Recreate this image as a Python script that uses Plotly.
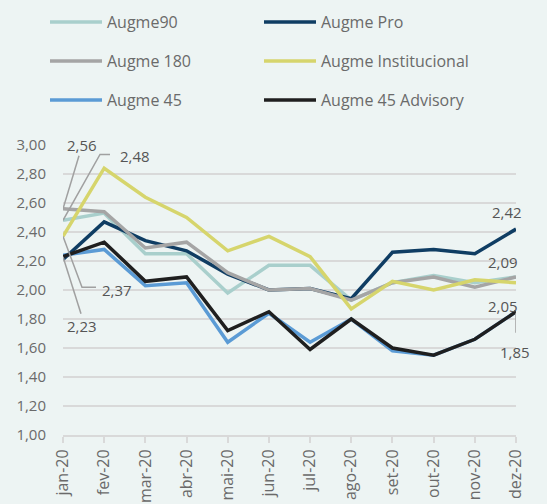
import plotly.graph_objects as go

months = ["jan-20", "fev-20", "mar-20", "abr-20", "mai-20", "jun-20",
          "jul-20", "ago-20", "set-20", "out-20", "nov-20", "dez-20"]

augme90 = [2.48, 2.53, 2.25, 2.25, 1.98, 2.17, 2.17, 1.93, 2.05, 2.10, 2.05, 2.09]
augme_pro = [2.21, 2.47, 2.34, 2.27, 2.11, 2.00, 2.01, 1.94, 2.26, 2.28, 2.25, 2.42]
augme180 = [2.56, 2.54, 2.29, 2.33, 2.12, 2.00, 2.01, 1.93, 2.05, 2.09, 2.02, 2.09]
augme_inst = [2.37, 2.84, 2.64, 2.50, 2.27, 2.37, 2.23, 1.87, 2.06, 2.00, 2.07, 2.05]
augme45 = [2.24, 2.28, 2.03, 2.05, 1.64, 1.84, 1.64, 1.80, 1.58, 1.55, 1.66, 1.85]
augme45_adv = [2.23, 2.33, 2.06, 2.09, 1.72, 1.85, 1.59, 1.80, 1.60, 1.55, 1.66, 1.85]

yticks = [1.0, 1.2, 1.4, 1.6, 1.8, 2.0, 2.2, 2.4, 2.6, 2.8, 3.0]

series = [
    ("Augme90", augme90, "#A9CFCC", "legend"),
    ("Augme Pro", augme_pro, "#0F3D63", "legend"),
    ("Augme 180", augme180, "#A5A5A5", "legend2"),
    ("Augme Institucional", augme_inst, "#D6D56C", "legend2"),
    ("Augme 45", augme45, "#5B9BD5", "legend3"),
    ("Augme 45 Advisory", augme45_adv, "#1F1F1F", "legend3"),
]

x_idx = list(range(len(months)))
BG = "#EDF4F3"
FONT = "Open Sans"
TXT = "#6A6A6A"

fig = go.Figure()
for name, vals, color, lg in series:
    fig.add_trace(go.Scatter(x=x_idx, y=vals, name=name, mode="lines",
                             line=dict(color=color, width=3.5), legend=lg))

# value labels (text positioned relative to data points with pixel shifts)
labels = [
    (0, augme180[0], 19, 64),
    (0, augme90[0], 72, 64),
    (0, augme_inst[0], 54, -54),
    (0, augme45_adv[0], 19, -69),
    (11, augme_pro[11], -9, 17),
    (11, augme180[11], -13, 15),
    (11, augme_inst[11], -13, -23),
    (11, augme45_adv[11], -1, -40),
]
for xi, v, xs, ys in labels:
    fig.add_annotation(x=xi, y=v, xref="x", yref="y", text=f"{v:.2f}".replace(".", ","),
                       showarrow=False, xshift=xs, yshift=ys,
                       font=dict(family=FONT, size=15, color="#555555"))

# leader lines, anchored at data points, in pixel offsets
leaders = [
    (0, augme180[0], "M0,0 L16,53"),
    (0, augme90[0], "M0,0 L37,66 L47,66"),
    (0, augme_inst[0], "M0,0 L19,-51 L33,-51"),
    (0, augme45_adv[0], "M0,0 L18,-57"),
    (11, augme45_adv[11], "M0,-1 L0,-21"),
]
for xi, v, p in leaders:
    fig.add_shape(type="path", xref="x", yref="y", xsizemode="pixel", ysizemode="pixel",
                  xanchor=xi, yanchor=v, path=p,
                  line=dict(color="#A0A0A0", width=1.5), layer="above")

H = 290.0
def ly(py):
    return (435 - py) / H

legend_common = dict(orientation="h", xanchor="left", yanchor="middle",
                     x=(45 - 63) / 453.0, entrywidth=147, itemwidth=52,
                     font=dict(family=FONT, size=16, color=TXT),
                     bgcolor="rgba(0,0,0,0)", traceorder="normal")

fig.update_layout(
    width=547, height=504,
    margin=dict(l=63, r=31, t=145, b=69, autoexpand=False),
    paper_bgcolor=BG, plot_bgcolor=BG,
    font=dict(family=FONT, color=TXT),
    legend=dict(**legend_common, y=ly(22)),
    legend2=dict(**legend_common, y=ly(61)),
    legend3=dict(**legend_common, y=ly(100)),
    separators=",.",
)
fig.update_xaxes(range=[0, 11], tickmode="array", tickvals=x_idx, ticktext=months,
                 tickangle=-90, showgrid=False, zeroline=False, automargin=False,
                 showline=True, linecolor="#D9D9D9", linewidth=2,
                 ticks="outside", ticklen=6, tickcolor="#D9D9D9", tickwidth=2,
                 tickfont=dict(family=FONT, size=16, color=TXT))
fig.update_yaxes(range=[1.0, 3.0], tickmode="array", tickvals=yticks, tickformat=".2f",
                 showgrid=True, gridcolor="#D9D9D9", gridwidth=2, zeroline=False,
                 showline=False, ticks="", ticklabelstandoff=16, automargin=False,
                 tickfont=dict(family=FONT, size=15, color=TXT))

fig.write_html("out.html", config={"displayModeBar": False},
               post_script="document.body.style.margin='0';document.body.style.background='%s';" % BG)
